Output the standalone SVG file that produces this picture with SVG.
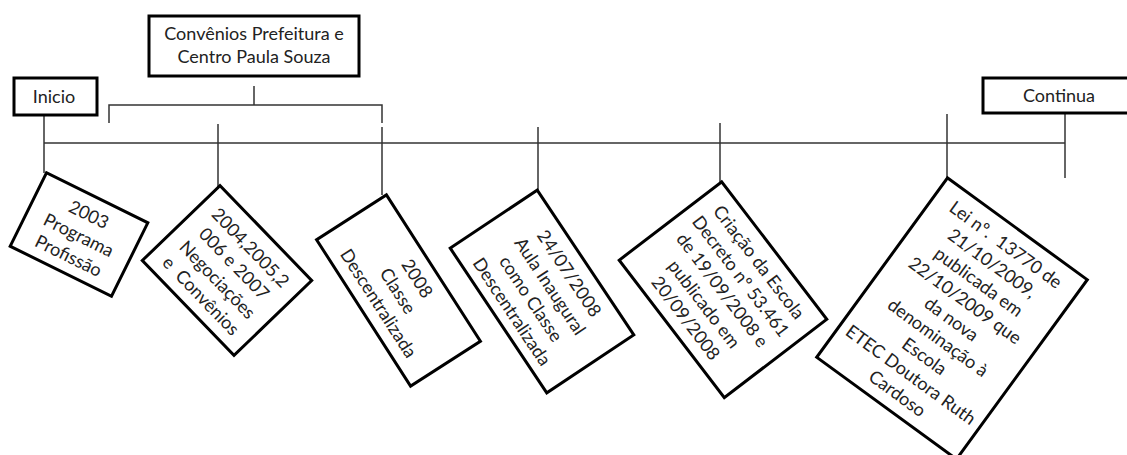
<svg xmlns="http://www.w3.org/2000/svg" width="1127" height="455" viewBox="0 0 1127 455">
<style>
.bg{fill:#ffffff}
.box{fill:#ffffff;stroke:#000000;stroke-width:3}
.ln{fill:none;stroke:#333333;stroke-width:1.5}
.t{font-family:Lato,"Liberation Sans",sans-serif;font-size:18px;fill:#222222;text-anchor:middle}
</style>
<rect class="bg" x="0" y="0" width="1127" height="455"/>
<g id="connectors">
<path class="ln" d="M44,143 H1065"/>
<path class="ln" d="M44,115 V173"/>
<path class="ln" d="M254,86 V105"/>
<path class="ln" d="M109,123 V105 H382 V123"/>
<path class="ln" d="M218,124 V187"/>
<path class="ln" d="M382,127 V195"/>
<path class="ln" d="M538,127 V190"/>
<path class="ln" d="M720,123 V183"/>
<path class="ln" d="M947,114 V178"/>
<path class="ln" d="M1065,113 V178"/>
</g>
<g id="inicio">
<rect class="box" x="14" y="78" width="83" height="37"/>
<text class="t" x="54" y="103">Inicio</text>
</g>
<g id="convenios">
<rect class="box" x="149" y="16" width="210" height="60"/>
<text class="t" x="254" y="40">Convênios Prefeitura e</text>
<text class="t" x="254" y="63">Centro Paula Souza</text>
</g>
<g id="continua">
<rect class="box" x="983" y="78" width="152" height="35"/>
<text class="t" x="1059" y="102">Continua</text>
</g>
<g id="n2003" transform="translate(79,234.5) rotate(26.3)">
<rect class="box" x="-56.5" y="-41" width="113" height="82"/>
<text class="t"><tspan x="0" y="-16">2003</tspan><tspan x="0" y="7">Programa</tspan><tspan x="0" y="30">Profissão</tspan></text>
</g>
<g id="n2004" transform="translate(227,270.5) rotate(46)">
<rect class="box" x="-66" y="-54" width="132" height="108"/>
<text class="t" xml:space="preserve"><tspan x="0" y="-26.5">2004,2005,2</tspan><tspan x="0" y="-3.5">006 e 2007</tspan><tspan x="0" y="19.5">Negociações</tspan><tspan x="0" y="42.5">e  Convênios</tspan></text>
</g>
<g id="n2008" transform="translate(398.5,290.5) rotate(57.3)">
<rect class="box" x="-87" y="-41.5" width="174" height="83"/>
<text class="t"><tspan x="0" y="-16">2008</tspan><tspan x="0" y="7">Classe</tspan><tspan x="0" y="30">Descentralizada</tspan></text>
</g>
<g id="n2407" transform="translate(542,291.5) rotate(56.3)">
<rect class="box" x="-87" y="-52.3" width="174" height="104.6"/>
<text class="t"><tspan x="0" y="-26.5">24/07/2008</tspan><tspan x="0" y="-3.5">Aula Inaugural</tspan><tspan x="0" y="19.5">como Classe</tspan><tspan x="0" y="42.5">Descentralizada</tspan></text>
</g>
<g id="criacao" transform="translate(723,289.7) rotate(52.6)">
<rect class="box" x="-86.5" y="-64.5" width="173" height="129"/>
<text class="t"><tspan x="0" y="-39">Criação da Escola</tspan><tspan x="0" y="-16">Decreto nº 53.461</tspan><tspan x="0" y="7">de 19/09/2008 e</tspan><tspan x="0" y="30">publicado em</tspan><tspan x="0" y="53">20/09/2008</tspan></text>
</g>
<g id="lei" transform="translate(952,318.5) rotate(36.1)">
<rect class="box" x="-86.5" y="-111" width="173" height="222"/>
<text class="t" xml:space="preserve"><tspan x="0" y="-85">Lei nº.  13770 de</tspan><tspan x="0" y="-62">21/10/2009,</tspan><tspan x="0" y="-39">publicada em</tspan><tspan x="0" y="-16">22/10/2009 que</tspan><tspan x="0" y="7">da nova</tspan><tspan x="0" y="30">denominação à</tspan><tspan x="0" y="53">Escola</tspan><tspan x="0" y="76">ETEC Doutora Ruth</tspan><tspan x="0" y="99">Cardoso</tspan></text>
</g>
</svg>
